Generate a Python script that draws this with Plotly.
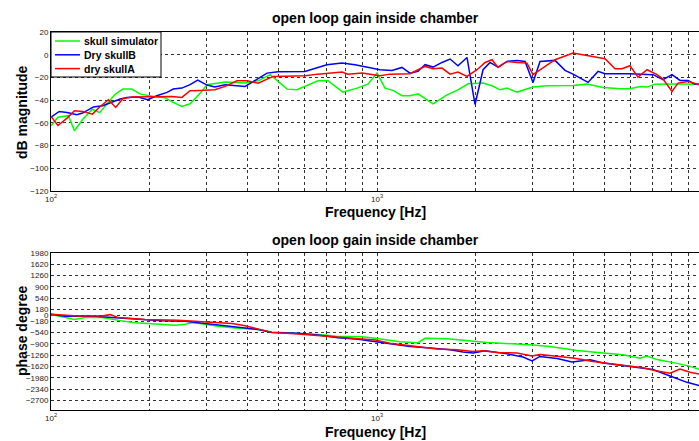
import plotly.graph_objects as go

# ---------------- data ----------------
sim_mag_f = [100, 105, 113, 118, 125, 134, 141, 149, 157, 166, 177, 188, 198, 211, 224, 237, 252, 267, 287, 301,
             342, 394, 432, 470, 530, 568, 659, 707, 786, 868, 938, 1000, 1058, 1120, 1193, 1262, 1336, 1485, 1640,
             1772, 1902, 2115, 2253, 2384, 2505, 2688, 3010, 3322, 3992, 4409, 4936, 5564, 5971, 6407, 6733, 7125,
             8323, 9723]
sim_mag_db = [-62.6, -55, -53.7, -67, -57, -48, -51, -42.6, -35, -30.2, -30.2, -34.7, -36.1, -37.3, -38, -42, -45.5,
              -43.2, -33.8, -26.5, -24.1, -25, -23, -17.6, -30.3, -30.9, -22.9, -22.9, -32.9, -29.4, -25.9, -16.2,
              -29.4, -31.4, -36.1, -36.1, -34.4, -43.2, -35.3, -30.9, -25.6, -25, -27.3, -30.9, -29.4, -32.9, -28.5,
              -27.3, -27, -25.9, -28.8, -30, -30, -27.9, -28.5, -25.9, -25.8, -25.9]

b_mag_f = [100, 106, 112, 120, 125, 135, 144, 152, 163, 171, 185, 198, 211, 227, 237, 252, 267, 282, 301, 318, 342,
           394, 423, 460, 497, 601, 702, 781, 856, 952, 1021, 1112, 1193, 1262, 1336, 1404, 1485, 1583, 1675, 1772,
           1888, 1998, 2115, 2222, 2351, 2505, 2688, 2845, 3010, 3162, 3516, 3773, 3992, 4440, 4764, 5006, 5971,
           7024, 7539, 8034, 8501, 8995, 9452, 9723]
b_mag_db = [-55, -50, -50.8, -52.9, -51.4, -46, -45, -42.6, -39, -37.6, -37.3, -39.6, -36.1, -33.2, -30.2, -29.4,
            -26.4, -22.3, -26.7, -28.5, -26.5, -27.9, -22.6, -16.2, -15, -14.7, -8.8, -7.4, -8.8, -11.8, -13.2,
            -13.8, -11.2, -16.2, -14.7, -8.8, -10.9, -6.8, -3.8, -9.7, -2.4, -43.8, -13.2, -6.8, -10.9, -5.9, -5,
            -5.9, -24.4, -5.9, -5, -13.8, -17.1, -24.4, -14.7, -16.8, -16.8, -17.6, -22, -17.6, -22.6, -22.6,
            -25.9, -25.9]

a_mag_f = [100, 105, 112, 118, 125, 134, 141, 150, 158, 166, 177, 197, 211, 235, 252, 267, 287, 318, 342, 372, 399,
           432, 480, 601, 659, 781, 815, 900, 1021, 1096, 1262, 1404, 1485, 1583, 1675, 1772, 1888, 2027, 2145, 2253,
           2351, 2505, 2688, 2885, 3010, 3162, 3516, 3992, 4440, 5006, 5371, 5643, 5971, 6318, 6733, 7226, 7539,
           8034, 8382, 8995, 9723]
a_mag_db = [-54.3, -62.3, -55.8, -49.3, -49.9, -52.3, -46, -39.6, -46.4, -38.8, -37.3, -37.3, -36.7, -36.7, -37.6,
            -31.7, -31.4, -30.9, -27.9, -22.9, -22.9, -25, -19.1, -18.5, -17.1, -15.3, -17.1, -16.2, -18.5, -17.1,
            -16.8, -10.3, -12.4, -11.8, -17.1, -15.3, -19.1, -13.2, -6.8, -4.4, -11.2, -5.9, -6.8, -7.4, -17.6,
            -13.2, -4.4, 1.5, -0.6, -3.5, -12.4, -12.4, -9.7, -19.7, -13.2, -17.6, -21.5, -32.3, -25, -23.5, -26.5]

sim_ph_f = [100, 110, 118, 127, 143, 165, 181, 198, 219, 240, 258, 271, 297, 325, 367, 402, 432, 476, 522, 632, 693,
            743, 815, 900, 986, 1176, 1336, 1404, 1640, 1929, 2175, 2947, 3393, 4107, 4599, 4936, 5683, 6407, 6733,
            7226, 8323, 9123, 9723]
sim_ph_deg = [30, -73, -135, -73, -73, -176, -239, -260, -290, -311, -280, -228, -280, -343, -400, -415, -446, -530,
              -550, -580, -623, -660, -660, -680, -727, -834, -866, -729, -740, -813, -862, -930, -986, -1111, -1171,
              -1194, -1246, -1360, -1290, -1401, -1520, -1615, -1710]

b_ph_f = [100, 110, 121, 136, 154, 172, 194, 219, 258, 297, 349, 394, 432, 476, 572, 659, 759, 874, 986, 1096, 1262,
          1454, 1675, 1836, 1970, 2145, 2505, 2805, 2989, 3162, 3566, 3965, 4503, 4936, 5683, 6407, 7024, 7921,
          8933, 9723]
b_ph_deg = [30, -31, -21, -31, -73, -104, -156, -176, -187, -260, -332, -384, -446, -540, -571, -623, -706, -758,
            -830, -913, -986, -1038, -1090, -1160, -1194, -1121, -1215, -1318, -1440, -1300, -1365, -1475, -1408,
            -1510, -1590, -1670, -1713, -1920, -2120, -2225]

a_ph_f = [100, 121, 143, 152, 161, 194, 245, 297, 359, 394, 432, 476, 572, 693, 797, 986, 1096, 1262, 1528, 1760,
          1970, 2115, 2334, 2688, 2989, 3162, 3566, 3992, 4599, 5184, 5971, 6546, 7226, 7921, 8501, 9123, 9723]
a_ph_deg = [30, -21, -21, 21, -73, -135, -156, -208, -260, -332, -436, -540, -592, -654, -706, -779, -882, -965,
            -1069, -1090, -1142, -1121, -1173, -1194, -1290, -1240, -1300, -1349, -1460, -1526, -1588, -1661, -1765,
            -1830, -1700, -1800, -1860]

names = ["skull simulator", "Dry skullB", "dry skullA"]
colors = ["#00ff00", "#0000ff", "#ff0000"]

mag_ticks = [20, 0, -20, -40, -60, -80, -100, -120]
ph_ticks = [1980, 1620, 1260, 900, 540, 180, 0, -180, -540, -900, -1260, -1620, -1980, -2340, -2700]
x_major = [100, 1000, 10000]
x_major_text = ["10<sup>2</sup>", "10<sup>3</sup>", "10<sup>4</sup>"]
x_minor = [200, 300, 400, 500, 600, 700, 800, 900, 2000, 3000, 4000, 5000, 6000, 7000, 8000, 9000]

title_text = "open loop gain inside chamber"

# ---------------- figure ----------------
fig = go.Figure()
mag_sets = [(sim_mag_f, sim_mag_db), (b_mag_f, b_mag_db), (a_mag_f, a_mag_db)]
ph_sets = [(sim_ph_f, sim_ph_deg), (b_ph_f, b_ph_deg), (a_ph_f, a_ph_deg)]
for (fx, fy), nm, c in zip(mag_sets, names, colors):
    fig.add_trace(go.Scatter(x=fx, y=fy, mode="lines", name=nm, line=dict(color=c, width=1.5),
                             xaxis="x", yaxis="y"))
for (fx, fy), nm, c in zip(ph_sets, names, colors):
    fig.add_trace(go.Scatter(x=fx, y=fy, mode="lines", name=nm, showlegend=False,
                             line=dict(color=c, width=1.5), xaxis="x2", yaxis="y2"))

font_family = "Arial, Liberation Sans, sans-serif"
grid = dict(showgrid=True, gridcolor="#333333", griddash="dot", gridwidth=1)
xcommon = dict(type="log", range=[2, 3.9877], tickvals=x_major, ticktext=x_major_text,
               ticks="", showline=True, linecolor="black", linewidth=1, mirror=True,
               tickfont=dict(size=8, color="#222", family=font_family), zeroline=False,
               minor=dict(tickvals=x_minor, showgrid=True, gridcolor="#333333", griddash="dot", gridwidth=1, ticks=""),
               **grid)
ycommon = dict(showline=True, linecolor="black", linewidth=1, mirror=False, ticks="", zeroline=False,
               tickfont=dict(size=8, color="#222", family=font_family), **grid)

# pixel -> paper helpers for layout decorations (plot area: x 51..699, y 32..410)
def px(xp):
    return (xp - 51) / 648


def py(yp):
    return (410 - yp) / 378


top_lo = py(191)
bot_hi = py(252.7)

fig.update_layout(
    width=699, height=441,
    margin=dict(l=51, r=0, t=32, b=31),
    paper_bgcolor="white", plot_bgcolor="white",
    font=dict(family=font_family, color="black"),
    xaxis=dict(domain=[0, 1], anchor="y", **xcommon),
    yaxis=dict(domain=[top_lo, 1], anchor="x", range=[-120, 20], tickvals=mag_ticks, **ycommon),
    xaxis2=dict(domain=[0, 1], anchor="y2", **xcommon),
    yaxis2=dict(domain=[0, bot_hi], anchor="x2", range=[-2995, 1980], tickvals=ph_ticks, **ycommon),
    showlegend=False,
)

# legend box drawn as layout decoration
fig.add_shape(type="rect", xref="paper", yref="paper", x0=px(51), x1=px(161), y0=py(77), y1=py(32),
              line=dict(color="black", width=1), fillcolor="white", layer="above")
for i, (nm, c) in enumerate(zip(names, colors)):
    yy = py(41 + 13.8 * i)
    fig.add_shape(type="line", xref="paper", yref="paper", x0=px(55), x1=px(80), y0=yy, y1=yy,
                  line=dict(color=c, width=1.5), layer="above")
    fig.add_annotation(text="<b>" + nm + "</b>", x=px(82), y=yy, xref="paper", yref="paper", showarrow=False,
                       xanchor="left", yanchor="middle",
                       font=dict(size=10.5, family=font_family, color="black"))

ann = [
    dict(text="<b>" + title_text + "</b>", x=0.5, y=py(18), size=14, angle=0),
    dict(text="<b>" + title_text + "</b>", x=0.5, y=py(240), size=14, angle=0),
    dict(text="<b>Frequency [Hz]</b>", x=0.5, y=py(212), size=14, angle=0),
    dict(text="<b>Frequency [Hz]</b>", x=0.5, y=py(432), size=14, angle=0),
    dict(text="<b>dB magnitude</b>", x=px(22), y=py(112), size=14, angle=-90),
    dict(text="<b>phase degree</b>", x=px(22), y=py(331), size=14, angle=-90),
]
for a in ann:
    fig.add_annotation(text=a["text"], x=a["x"], y=a["y"], xref="paper", yref="paper", showarrow=False,
                       xanchor="center", yanchor="middle", textangle=a["angle"],
                       font=dict(size=a["size"], family=font_family, color="black"))

fig.write_html("out.html", config={"displayModeBar": False},
               post_script="document.body.style.margin='0';document.body.style.overflow='hidden';")
